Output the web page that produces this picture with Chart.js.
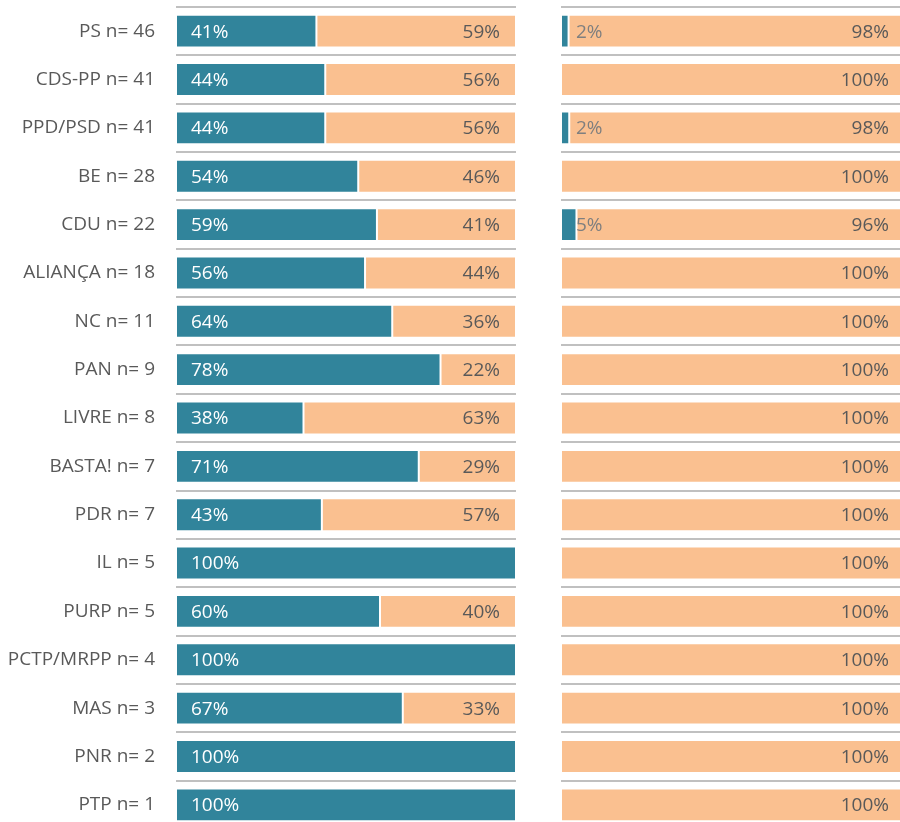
<!DOCTYPE html>
<html>
<head>
<meta charset="utf-8">
<script src="https://cdn.jsdelivr.net/npm/chart.js@4/dist/chart.umd.min.js"></script>
<style>
  html, body { margin: 0; padding: 0; background: #fff; }
  body { width: 900px; height: 822px; overflow: hidden; position: relative; }
  .box { position: absolute; top: 0; height: 832px; }
  #left { left: 0; width: 516px; }
  #right { left: 561px; width: 344px; }
</style>
</head>
<body>
<div class="box" id="left"><canvas id="chart1"></canvas></div>
<div class="box" id="right"><canvas id="chart2"></canvas></div>
<script>
var parties = ['PS n= 46', 'CDS-PP n= 41', 'PPD/PSD n= 41', 'BE n= 28', 'CDU n= 22', 'ALIANÇA n= 18',
  'NC n= 11', 'PAN n= 9', 'LIVRE n= 8', 'BASTA! n= 7', 'PDR n= 7', 'IL n= 5', 'PURP n= 5',
  'PCTP/MRPP n= 4', 'MAS n= 3', 'PNR n= 2', 'PTP n= 1'];

// left panel
var leftYes = [41.3, 43.9, 43.9, 53.6, 59.1, 55.6, 63.6, 77.8, 37.5, 71.4, 42.9, 100, 60, 100, 66.7, 100, 100];
var leftNo  = [58.7, 56.1, 56.1, 46.4, 40.9, 44.4, 36.4, 22.2, 62.5, 28.6, 57.1, 0, 40, 0, 33.3, 0, 0];

// right panel
var rightYes = [2.2, 0, 2.4, 0, 4.5, 0, 0, 0, 0, 0, 0, 0, 0, 0, 0, 0, 0];
var rightNo  = [97.8, 100, 97.6, 100, 95.5, 100, 100, 100, 100, 100, 100, 100, 100, 100, 100, 100, 100];

var teal = '#31849b';
var peach = '#fac090';
var fontName = '"Open Sans", sans-serif';
var fontSize = 19;

var labelPlugin = {
  id: 'pctLabels',
  afterDatasetsDraw: function(chart) {
    var ctx = chart.ctx;
    ctx.save();
    ctx.font = fontSize + 'px ' + fontName;
    ctx.textBaseline = 'middle';
    chart.data.datasets.forEach(function(ds, di) {
      var meta = chart.getDatasetMeta(di);
      meta.data.forEach(function(bar, i) {
        var v = ds.data[i];
        if (!v) return;
        var txt = Math.round(v) + '%';
        if (di == 0) {
          var w = bar.x - bar.base;
          ctx.fillStyle = w > 40 ? '#ffffff' : '#7f7f7f';
          ctx.textAlign = 'left';
          ctx.fillText(txt, bar.base + 15, bar.y + 1);
        } else {
          ctx.fillStyle = '#595959';
          ctx.textAlign = 'right';
          ctx.fillText(txt, bar.x - 16, bar.y + 1);
        }
      });
    });
    ctx.restore();
  }
};

function renderChart(yes, no, idChart, showLabels) {
  var ctx = document.getElementById(idChart).getContext('2d');
  return new Chart(ctx, {
    type: 'bar',
    data: {
      labels: parties,
      datasets: [{
        data: yes,
        backgroundColor: teal,
        borderColor: '#ffffff',
        borderWidth: 1,
        borderSkipped: false
      }, {
        data: no,
        backgroundColor: peach,
        borderColor: '#ffffff',
        borderWidth: 1,
        borderSkipped: false
      }]
    },
    options: {
      indexAxis: 'y',
      responsive: true,
      maintainAspectRatio: false,
      animation: false,
      events: [],
      datasets: { bar: { barPercentage: 0.68, categoryPercentage: 1 } },
      layout: { padding: { top: 7, bottom: 3, left: 0, right: 0 } },
      plugins: { legend: { display: false }, tooltip: { enabled: false } },
      scales: {
        x: { stacked: true, min: 0, max: 100, display: false },
        y: {
          stacked: true,
          display: true,
          border: { display: false },
          grid: { color: '#c0c0c0', lineWidth: 2, drawTicks: false, offset: true },
          ticks: {
            display: showLabels,
            color: '#595959',
            padding: 21,
            font: { family: fontName, size: fontSize }
          },
          afterFit: function(scale) {
            scale.width = showLabels ? 176 : 0;
            scale.paddingTop = 0;
            scale.paddingBottom = 0;
          }
        }
      }
    },
    plugins: [labelPlugin]
  });
}

renderChart(leftYes, leftNo, 'chart1', true);
renderChart(rightYes, rightNo, 'chart2', false);
</script>
</body>
</html>
